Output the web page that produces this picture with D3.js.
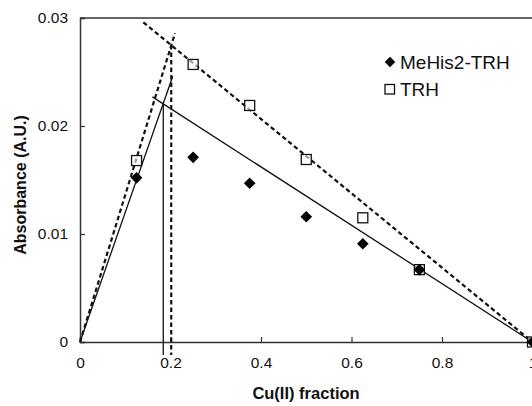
<!DOCTYPE html>
<html>
<head>
<meta charset="utf-8">
<script src="https://cdn.jsdelivr.net/npm/d3@7"></script>
<style>
  body { margin: 0; background: #fff; }
  text { font-family: Arial, "Liberation Sans", sans-serif; fill: #111; }
</style>
</head>
<body>
<svg id="chart" width="532" height="406"></svg>
<script>
  /* data */
  var cuFraction = [0.125, 0.25, 0.375, 0.5, 0.625, 0.75, 1]
  var meHis2TRH = [0.0152, 0.0171, 0.0147, 0.0116, 0.0091, 0.0067, 0]
  var trh = [0.0168, 0.0257, 0.0219, 0.0169, 0.0115, 0.0067, 0]
  var xTicks = [0, 0.2, 0.4, 0.6, 0.8, 1]
  var yTicks = [0, 0.01, 0.02, 0.03]

  // trend lines, [x1, y1, x2, y2] in data units
  var solidLines = [
    [0, 0, 0.205, 0.0246],
    [0.16, 0.0227, 1, 0],
    [0.184, 0.0221, 0.184, -0.0012]
  ]
  var dashedLines = [
    [0, 0, 0.21, 0.0286],
    [0.14, 0.0296, 1, 0],
    [0.2016, 0.0275, 0.2016, -0.0012]
  ]

  var svg = d3.select("#chart")
  var plotLeft = 80, plotRight = 532.5, plotTop = 18, plotBottom = 342

  var x = d3.scaleLinear().domain([0, 1]).range([plotLeft, plotRight])
  var y = d3.scaleLinear().domain([0, 0.03]).range([plotBottom, plotTop])

  /* axes */
  var xAxis = d3.axisBottom(x).tickValues(xTicks).tickSize(-5).tickPadding(12)
      .tickFormat(function (d) { return d === 0 || d === 1 ? d : d.toFixed(1) })
  var yAxis = d3.axisLeft(y).tickValues(yTicks).tickSize(-5).tickPadding(12)
      .tickFormat(function (d) { return d === 0 ? "0" : d.toFixed(2) })

  var gx = svg.append("g").attr("transform", "translate(0," + plotBottom + ")").call(xAxis)
  var gy = svg.append("g").attr("transform", "translate(" + plotLeft + ",0)").call(yAxis)

  ;[gx, gy].forEach(function (g) {
    g.attr("font-size", null).attr("font-family", null)
    g.select(".domain").attr("stroke", "#333").attr("stroke-width", 1.5)
    g.selectAll(".tick line").attr("stroke", "#333").attr("stroke-width", 1.2)
    g.selectAll(".tick text").style("font-size", "15.5px").attr("fill", "#111")
  })
  gx.selectAll(".tick text").attr("dy", "0.9em")

  // top border
  svg.append("line")
      .attr("x1", x(0)).attr("x2", x(1))
      .attr("y1", y(0.03)).attr("y2", y(0.03))
      .attr("stroke", "#333").attr("stroke-width", 1.5)

  /* trend lines */
  svg.selectAll("line.solid").data(solidLines).enter().append("line")
      .attr("class", "solid")
      .attr("x1", function (d) { return x(d[0]) })
      .attr("y1", function (d) { return y(d[1]) })
      .attr("x2", function (d) { return x(d[2]) })
      .attr("y2", function (d) { return y(d[3]) })
      .attr("stroke", "#111").attr("stroke-width", 1.3)

  svg.selectAll("line.dashed").data(dashedLines).enter().append("line")
      .attr("class", "dashed")
      .attr("x1", function (d) { return x(d[0]) })
      .attr("y1", function (d) { return y(d[1]) })
      .attr("x2", function (d) { return x(d[2]) })
      .attr("y2", function (d) { return y(d[3]) })
      .attr("stroke", "#111").attr("stroke-width", 2.2)
      .attr("stroke-dasharray", "4.5,3")

  /* markers */
  var diamond = d3.symbol().type(d3.symbolSquare).size(68)

  svg.selectAll("rect.trh").data(cuFraction).enter().append("rect")
      .attr("class", "trh")
      .attr("x", function (d) { return x(d) - 5 })
      .attr("y", function (d, i) { return y(trh[i]) - 5 })
      .attr("width", 10).attr("height", 10)
      .attr("fill", "#fff").attr("fill-opacity", 0.6)
      .attr("stroke", "#111").attr("stroke-width", 1.3)

  svg.selectAll("path.mehis").data(cuFraction).enter().append("path")
      .attr("class", "mehis")
      .attr("d", diamond)
      .attr("transform", function (d, i) {
        return "translate(" + x(d) + "," + y(meHis2TRH[i]) + ") rotate(45)"
      })
      .attr("fill", "#000")

  /* legend */
  svg.append("path").attr("d", d3.symbol().type(d3.symbolSquare).size(56))
      .attr("transform", "translate(390,62) rotate(45)").attr("fill", "#000")
  svg.append("text").attr("x", 400).attr("y", 68.5).style("font-size", "19px").text("MeHis2-TRH")
  svg.append("rect").attr("x", 385).attr("y", 84.5).attr("width", 9.5).attr("height", 9.5)
      .attr("fill", "#fff").attr("stroke", "#111").attr("stroke-width", 1.3)
  svg.append("text").attr("x", 400).attr("y", 95.5).style("font-size", "19px").text("TRH")

  /* axis titles */
  svg.append("text")
      .attr("x", 306).attr("y", 399)
      .attr("text-anchor", "middle")
      .style("font-size", "16.5px").style("font-weight", "bold")
      .text("Cu(II) fraction")

  svg.append("text")
      .attr("transform", "translate(26,185) rotate(-90)")
      .attr("text-anchor", "middle")
      .style("font-size", "16px").style("font-weight", "bold")
      .text("Absorbance (A.U.)")
</script>
</body>
</html>
